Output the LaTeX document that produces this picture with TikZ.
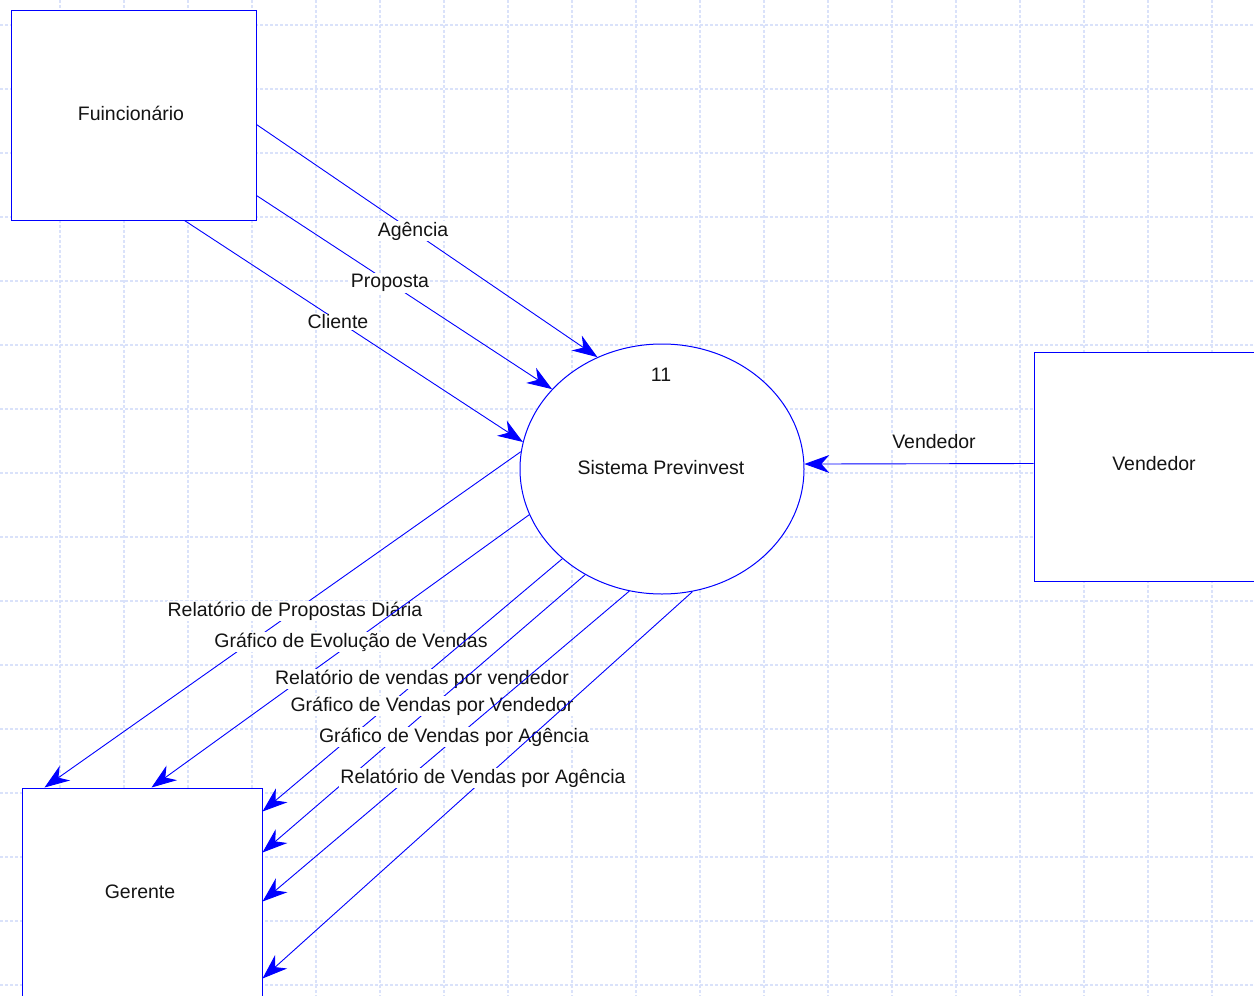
\documentclass[tikz,border=0pt]{standalone}
\usepackage{fontspec}
\setmainfont{Liberation Sans}
\usetikzlibrary{shapes.geometric,arrows.meta,calc}
\definecolor{gridc}{RGB}{218,226,250}
\definecolor{flow}{RGB}{0,0,255}
\definecolor{txt}{RGB}{20,20,20}
\begin{document}
\begin{tikzpicture}[x=1pt,y=-1pt,
  every node/.style={font=\fontsize{19.5}{23}\selectfont,text=txt},
  entity/.style={draw=flow,fill=white,line width=1pt,rectangle,inner sep=0pt},
  proc/.style={draw=flow,fill=white,line width=1pt,ellipse,inner sep=0pt,minimum width=284pt,minimum height=250pt},
  flowline/.style={draw=flow,line width=0.9pt,-{Stealth[length=25pt,width=18pt,inset=8pt]}},
  lbl/.style={fill=white,inner sep=1pt},
  gridline/.style={draw=gridc,line width=1.1pt,dash pattern=on 3pt off 2pt}]
\useasboundingbox (0,0) rectangle (1254,996);
\begin{scope}
\clip (0,0) rectangle (1254,996);
\fill[white] (0,0) rectangle (1254,996);
% grid
\foreach \x in {60,124,...,1254} \draw[gridline] (\x,0) -- (\x,996);
\foreach \y in {25,89,...,996} \draw[gridline] (0,\y) -- (1254,\y);
% nodes
\node[entity,minimum width=245pt,minimum height=210pt] (fun) at (133.5,115) {};
\node at (131,113) (funt) {Fuincionário};
\node[entity,minimum width=240pt,minimum height=229pt] (ven) at (1154,466.5) {};
\node at (1154,464) (vent) {Vendedor};
\node[entity,minimum width=240pt,minimum height=209pt] (ger) at (142,892.5) {};
\node at (140,892) (gert) {Gerente};
\node[proc] (sys) at (662,469) {};
\node at (661,375) (sysn) {11};
\node at (661,468) (syst) {Sistema Previnvest};
% inflows
\draw[flowline] ($(fun.north east)+(0,115)$) -- (sys.120.9);
\node[lbl] (l1) at (413,231) {Agência};
\draw[flowline] ($(fun.north east)+(0,186)$) -- (sys.144.8);
\node[lbl] (l2) at (390,283) {Proposta};
\draw[flowline] ($(fun.south west)+(174,0)$) -- (sys.169.9);
\node[lbl] (l3) at (338,322) {Cliente};
\draw[flowline] ($(ven.west)+(0,-3)$) -- (sys.2);
\node[lbl] (l4) at (934,442) {Vendedor};
% outflows
\draw[flowline] (sys.173) -- ($(ger.north west)+(23,0)$);
\node[lbl] (l5) at (295,611) {Relatório de Propostas Diária};
\draw[flowline] (sys.199.6) -- ($(ger.north west)+(130,0)$);
\node[lbl] (l6) at (351,642) {Gráfico de Evolução de Vendas};
\draw[flowline] (sys.222.6) -- ($(ger.north east)+(0,24)$);
\node[lbl] (l7) at (422,679) {Relatório de vendas por vendedor};
\draw[flowline] (sys.234.4) -- ($(ger.north east)+(0,65)$);
\node[lbl] (l8) at (432,706) {Gráfico de Vendas por Vendedor};
\draw[flowline] (sys.255.4) -- ($(ger.north east)+(0,114)$);
\node[lbl] (l9) at (454,737) {Gráfico de Vendas por Agência};
\draw[flowline] (sys.284.1) -- ($(ger.north east)+(0,191)$);
\node[lbl] (l10) at (483,778) {Relatório de Vendas por Agência};
\end{scope}
\end{tikzpicture}
\end{document}
